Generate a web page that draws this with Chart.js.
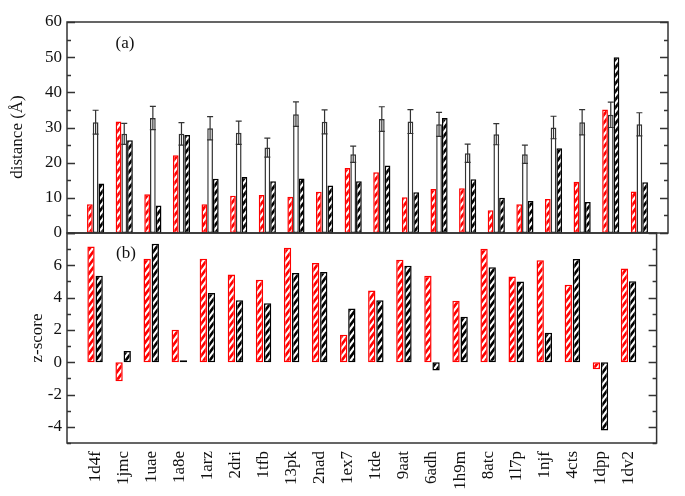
<!DOCTYPE html>
<html>
<head>
<meta charset="utf-8">
<script src="https://cdn.jsdelivr.net/npm/chart.js@4.4.1/dist/chart.umd.min.js"></script>
<style>
  body { margin: 0; background: #fff; }
  #wrap { position: relative; width: 685px; height: 496px; }
  #wrap canvas { position: absolute; left: 0; top: 0; }
</style>
</head>
<body>
<div id="wrap">
  <canvas id="distChart" width="685" height="496"></canvas>
  <canvas id="zChart" width="685" height="496"></canvas>
</div>
<script>
const proteins = ['1d4f', '1jmc', '1uae', '1a8e', '1arz', '2dri', '1tfb', '13pk', '2nad', '1ex7',
  '1tde', '9aat', '6adh', '1h9m', '8atc', '1l7p', '1njf', '4cts', '1dpp', '1dv2'];

// panel (a): distance in Å
const distRed   = [8.2, 31.7, 11.0, 22.1, 8.2, 10.6, 10.8, 10.3, 11.7, 18.5,
  17.3, 10.2, 12.5, 12.7, 6.5, 8.2, 9.7, 14.6, 35.1, 11.8];
const distMean  = [31.5, 28.2, 32.7, 28.2, 29.8, 28.5, 24.3, 33.8, 31.6, 22.4,
  32.4, 31.7, 30.9, 22.7, 28.1, 22.4, 30.0, 31.5, 33.6, 30.9];
const distErr   = [3.4, 3.0, 3.3, 3.2, 3.3, 3.3, 2.7, 3.5, 3.4, 2.3,
  3.5, 3.4, 3.4, 2.6, 3.0, 2.6, 3.2, 3.6, 3.6, 3.3];
const distBlack = [14.1, 26.4, 7.8, 27.9, 15.4, 15.9, 14.7, 15.5, 13.5, 14.7,
  19.2, 11.6, 32.7, 15.3, 10.0, 9.1, 24.1, 8.8, 50.0, 14.4];

// panel (b): z-score
const zRed   = [7.17, -1.17, 6.41, 2.01, 6.41, 5.43, 5.10, 7.09, 6.14, 1.70,
  4.44, 6.35, 5.35, 3.81, 7.02, 5.30, 6.31, 4.79, -0.43, 5.80];
const zBlack = [5.35, 0.70, 7.33, 0.12, 4.28, 3.83, 3.65, 5.53, 5.59, 3.32,
  3.83, 5.98, -0.51, 2.81, 5.88, 5.00, 1.82, 6.39, -4.22, 5.02];

const distTicks = [0, 10, 20, 30, 40, 50, 60];
const zTicks = [-4, -2, 0, 2, 4, 6];

Chart.defaults.font.family = '"Liberation Serif", "DejaVu Serif", serif';
Chart.defaults.color = '#111';

// one empty slot on each side so the groups sit at 1..n on a 0..n+1 axis
const labels = ['', ...proteins, ''];
const pad = arr => [null, ...arr, null];

function hatch(color) {
  const w = 6, h = 8;
  const c = document.createElement('canvas');
  c.width = w; c.height = h;
  const g = c.getContext('2d');
  g.fillStyle = '#fff';
  g.fillRect(0, 0, w, h);
  g.strokeStyle = color;
  g.lineWidth = 2.6;
  g.beginPath();
  for (let k = 0; k <= 2; k++) {
    g.moveTo(k * w + w, -h);
    g.lineTo(k * w - 3 * w, 3 * h);
  }
  g.stroke();
  return g.createPattern(c, 'repeat');
}

// box, inward tick marks, panel tag and y title
const framePlugin = {
  id: 'frame',
  afterDraw(chart, args, opts) {
    const { ctx, chartArea: a } = chart;
    const y = chart.scales.y;
    ctx.save();
    ctx.strokeStyle = '#333';
    ctx.lineWidth = 1.5;
    ctx.beginPath();
    y.ticks.forEach(t => {
      const py = Math.round(y.getPixelForValue(t.value)) + 0.5;
      const len = t.value % opts.majorStep === 0 ? 8 : 4;
      ctx.moveTo(a.left, py); ctx.lineTo(a.left + len, py);
      ctx.moveTo(a.right, py); ctx.lineTo(a.right - len, py);
    });
    ctx.stroke();
    ctx.strokeRect(a.left, a.top, a.right - a.left, a.bottom - a.top);

    ctx.fillStyle = '#111';
    ctx.font = '17px "Liberation Serif", serif';
    ctx.textAlign = 'center';
    ctx.textBaseline = 'middle';
    ctx.fillText(opts.tag, opts.tagX, opts.tagY);

    ctx.translate(opts.titleX, opts.titleY);
    ctx.rotate(-Math.PI / 2);
    ctx.fillText(opts.title, 0, 0);
    ctx.restore();
  }
};

const errorPlugin = {
  id: 'errorBars',
  afterDatasetsDraw(chart, args, opts) {
    if (!opts.errors) return;
    const meta = chart.getDatasetMeta(opts.dataset);
    const values = chart.data.datasets[opts.dataset].data;
    const y = chart.scales.y;
    const ctx = chart.ctx;
    ctx.save();
    ctx.strokeStyle = '#333';
    ctx.lineWidth = 1.2;
    meta.data.forEach((bar, i) => {
      const v = values[i], e = opts.errors[i];
      if (v == null || e == null) return;
      const top = y.getPixelForValue(v + e);
      const bot = y.getPixelForValue(v - e);
      ctx.beginPath();
      ctx.moveTo(bar.x, top); ctx.lineTo(bar.x, bot);
      ctx.moveTo(bar.x - opts.cap, top); ctx.lineTo(bar.x + opts.cap, top);
      ctx.moveTo(bar.x - opts.cap, bot); ctx.lineTo(bar.x + opts.cap, bot);
      ctx.stroke();
    });
    ctx.restore();
  }
};

const redHatch = hatch('#ff0000');
const blackHatch = hatch('#000000');

new Chart(document.getElementById('distChart'), {
  type: 'bar',
  data: {
    labels: labels,
    datasets: [
      { data: pad(distRed), backgroundColor: redHatch, borderColor: '#ff0000' },
      { data: pad(distMean), backgroundColor: '#ffffff', borderColor: '#333333' },
      { data: pad(distBlack), backgroundColor: blackHatch, borderColor: '#000000' }
    ]
  },
  options: {
    responsive: false,
    animation: false,
    layout: { padding: { top: 22, right: 17, bottom: 263, left: 0 } },
    datasets: { bar: { borderWidth: 1.5, borderSkipped: false, categoryPercentage: 0.6, barPercentage: 1 } },
    plugins: {
      legend: { display: false },
      tooltip: { enabled: false },
      frame: { tag: '(a)', tagX: 125, tagY: 44, title: 'distance (Å)', titleX: 18, titleY: 137, majorStep: 10 },
      errorBars: { dataset: 1, errors: pad(distErr), cap: 3 }
    },
    scales: {
      x: { display: false, offset: false },
      y: {
        min: 0, max: 60,
        afterFit: s => { s.width = 67; },
        grid: { display: false, drawTicks: false },
        border: { display: false },
        ticks: { stepSize: 5, autoSkip: false, padding: 5, font: { size: 17 }, callback: v => distTicks.includes(v) ? v : '' }
      }
    }
  },
  plugins: [framePlugin, errorPlugin]
});

new Chart(document.getElementById('zChart'), {
  type: 'bar',
  data: {
    labels: labels,
    datasets: [
      { data: pad(zRed), backgroundColor: redHatch, borderColor: '#ff0000' },
      { data: pad(zBlack), backgroundColor: blackHatch, borderColor: '#000000' }
    ]
  },
  options: {
    responsive: false,
    animation: false,
    layout: { padding: { top: 233, right: 17, bottom: 0, left: 0 } },
    datasets: { bar: { borderWidth: 1.5, borderSkipped: false, categoryPercentage: 0.58, barPercentage: 0.9 } },
    plugins: {
      legend: { display: false },
      tooltip: { enabled: false },
      frame: { tag: '(b)', tagX: 126, tagY: 254, title: 'z-score', titleX: 38, titleY: 338, majorStep: 2 },
      errorBars: {}
    },
    scales: {
      x: {
        offset: false,
        afterFit: s => { s.height = 53; },
        grid: { display: false, drawTicks: false },
        border: { display: false },
        ticks: { autoSkip: false, minRotation: 90, maxRotation: 90, padding: 8, font: { size: 17 } }
      },
      y: {
        min: -5, max: 8,
        afterFit: s => { s.width = 67; },
        grid: { display: false, drawTicks: false },
        border: { display: false },
        ticks: { stepSize: 1, autoSkip: false, padding: 5, font: { size: 17 }, callback: v => zTicks.includes(v) ? String(v) : '' }
      }
    }
  },
  plugins: [framePlugin, errorPlugin]
});
</script>
</body>
</html>
